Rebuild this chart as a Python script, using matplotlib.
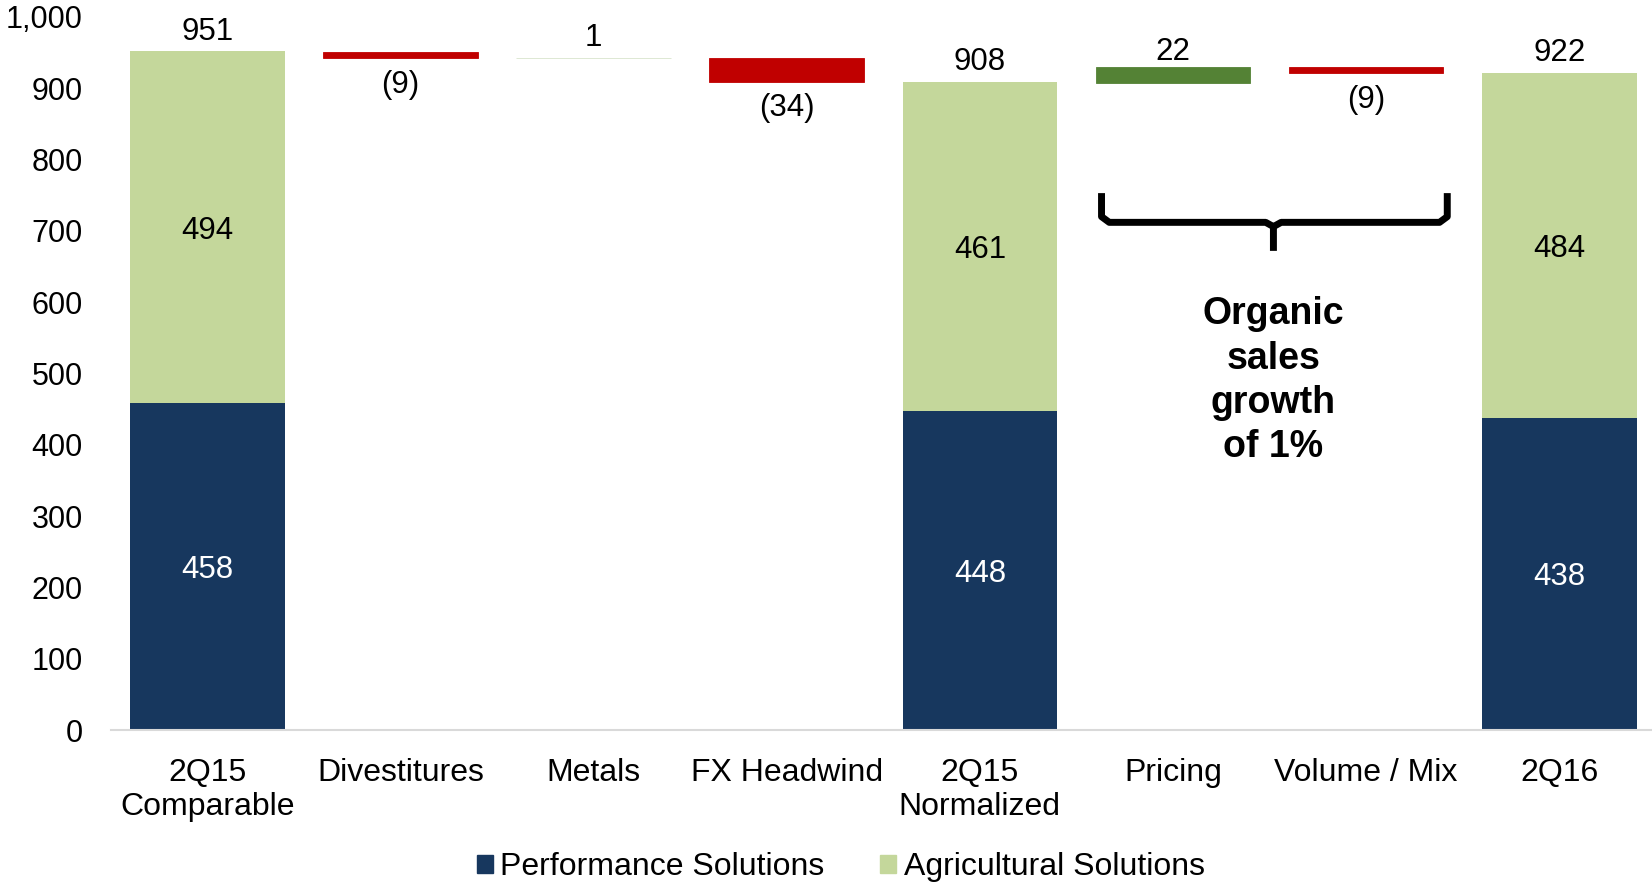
import numpy as np
import matplotlib.pyplot as plt
from matplotlib.patches import Patch
from matplotlib.ticker import FuncFormatter

plt.rcParams['font.family'] = ['Liberation Sans', 'DejaVu Sans']

# categories along the bridge
categories = ['2Q15\nComparable', 'Divestitures', 'Metals', 'FX Headwind',
              '2Q15\nNormalized', 'Pricing', 'Volume / Mix', '2Q16']

# stacked totals (index into categories)
total_idx = [0, 4, 7]
perf_vals = [458, 448, 438]
agri_vals = [494, 461, 484]
total_labels = [951, 908, 922]

# bridge steps
step_idx = [1, 2, 3, 5, 6]
step_vals = [-9, 1, -34, 22, -9]
step_start = [951, 951, 951, 908, 908]   # running total restarts at the subtotal
step_colors = ['#C00000', '#D8E4CC', '#C00000', '#548235', '#C00000']

navy = '#17375E'
lgreen = '#C4D79B'
fs = 22.5

fig = plt.figure(figsize=(16.52, 8.85), dpi=100)
ax = fig.add_axes([0.067, 0.1751, 0.933, 0.8057])

w = 0.80
x = np.arange(len(categories))

# stacked columns
for k, i in enumerate(total_idx):
    ax.bar(i, perf_vals[k], width=w, color=navy, zorder=2)
    ax.bar(i, agri_vals[k], bottom=perf_vals[k], width=w, color=lgreen, zorder=2)
    ax.text(i, perf_vals[k] / 2, str(perf_vals[k]), ha='center', va='center_baseline',
            color='white', fontsize=fs)
    ax.text(i, perf_vals[k] + agri_vals[k] / 2, str(agri_vals[k]), ha='center',
            va='center_baseline', color='black', fontsize=fs)
    ax.annotate(str(total_labels[k]), (i, perf_vals[k] + agri_vals[k]),
                xytext=(0, 14), textcoords='offset points', ha='center',
                va='center', fontsize=fs)

# floating steps, running total
level = None
prev_start = None
for k, i in enumerate(step_idx):
    if step_start[k] != prev_start:
        level = step_start[k]
        prev_start = step_start[k]
    v = step_vals[k]
    lo = min(level, level + v)
    ax.bar(i, abs(v), bottom=lo, width=w, color=step_colors[k],
           edgecolor=step_colors[k], linewidth=0.6, zorder=2)
    if v < 0:
        ax.annotate('(%d)' % abs(v), (i, lo), xytext=(0, -19),
                    textcoords='offset points', ha='center', va='center',
                    fontsize=fs)
    else:
        off = 14 if abs(v) < 5 else 11
        ax.annotate(str(v), (i, lo + abs(v)), xytext=(0, off),
                    textcoords='offset points', ha='center', va='center',
                    fontsize=fs)
    level = level + v

# brace over the organic growth steps
bx0, bx1, bxm = 4.63, 6.42, 5.52
ytop, ymid, ytip = 753, 712, 672
r = 0.04
ax.plot([bx0, bx0, bx0 + r, bxm - r, bxm, bxm], [ytop, ymid + 8, ymid, ymid, ymid - 6, ytip],
        color='black', lw=5, solid_capstyle='butt', solid_joinstyle='round', zorder=3)
ax.plot([bx1, bx1, bx1 - r, bxm + r, bxm], [ytop, ymid + 8, ymid, ymid, ymid - 6],
        color='black', lw=5, solid_capstyle='butt', solid_joinstyle='round', zorder=3)
ax.text(bxm, 490, 'Organic\nsales\ngrowth\nof 1%', ha='center', va='center',
        fontsize=27, fontweight='bold', linespacing=1.29)

ax.set_xlim(-0.5, 7.48)
ax.set_ylim(0, 1000)
ax.set_yticks(np.arange(0, 1001, 100))
ax.yaxis.set_major_formatter(FuncFormatter(lambda v, p: '{:,.0f}'.format(v)))
ax.set_xticks(x)
ax.set_xticklabels(categories, linespacing=1.2)
ax.tick_params(axis='both', length=0)
ax.tick_params(axis='x', pad=20, labelsize=23)
ax.tick_params(axis='y', pad=20, labelsize=22)
for s in ['top', 'right', 'left']:
    ax.spines[s].set_visible(False)
ax.spines['bottom'].set_color('#D9D9D9')
ax.spines['bottom'].set_linewidth(1.5)

handles = [Patch(color=navy, label='Performance Solutions'),
           Patch(color=lgreen, label='Agricultural Solutions')]
fig.legend(handles=handles, loc='center', bbox_to_anchor=(0.509, 0.02), ncol=2,
           frameon=False, fontsize=23, handlelength=0.5, handleheight=0.5,
           handletextpad=0.23, columnspacing=1.75)

fig.savefig('out.png', dpi=100)
